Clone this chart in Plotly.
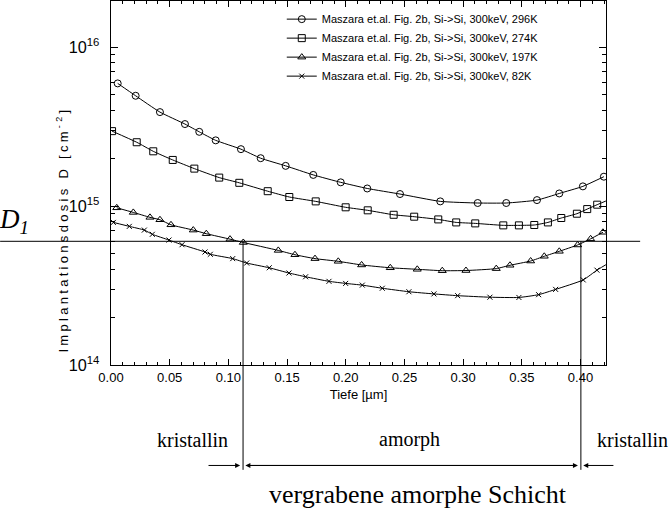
import math
import plotly.graph_objects as go

# Maszara et al. Fig. 2b, Si->Si, 300keV -- Tiefe [um] vs Implantationsdosis [cm^-2]
x_296 = [0.0057, 0.0210, 0.0417, 0.0630, 0.0752, 0.0892, 0.1107, 0.1275, 0.1488, 0.1723,
         0.1957, 0.2183, 0.2462, 0.2805, 0.3124, 0.3367, 0.3629, 0.3819, 0.4020, 0.4199]
d_296 = [5.91e15, 4.94e15, 3.90e15, 3.28e15, 2.93e15, 2.59e15, 2.28e15, 2.00e15, 1.79e15, 1.57e15,
         1.41e15, 1.29e15, 1.19e15, 1.07e15, 1.045e15, 1.045e15, 1.09e15, 1.20e15, 1.33e15, 1.53e15]

x_274 = [0.0009, 0.0219, 0.0360, 0.0526, 0.0710, 0.0922, 0.1093, 0.1335, 0.1519, 0.1744,
         0.1999, 0.2187, 0.2408, 0.2583, 0.2788, 0.2941, 0.3103, 0.3342, 0.3475, 0.3606,
         0.3722, 0.3836, 0.3969, 0.4057, 0.4142, 0.4260]
d_274 = [2.96e15, 2.52e15, 2.21e15, 1.95e15, 1.72e15, 1.51e15, 1.40e15, 1.24e15, 1.14e15, 1.07e15,
         9.82e14, 9.40e14, 8.81e14, 8.57e14, 8.24e14, 7.89e14, 7.78e14, 7.56e14, 7.56e14, 7.60e14,
         7.89e14, 8.41e14, 8.95e14, 9.57e14, 1.02e15, 1.11e15]

x_197 = [0.0049, 0.0190, 0.0332, 0.0417, 0.0511, 0.0701, 0.0812, 0.1014, 0.1127, 0.1425,
         0.1567, 0.1738, 0.1936, 0.2135, 0.2379, 0.2609, 0.2822, 0.3024, 0.3282, 0.3399,
         0.3575, 0.3691, 0.3819, 0.3975, 0.4086, 0.4191]
d_197 = [9.75e14, 9.12e14, 8.49e14, 8.20e14, 7.62e14, 7.06e14, 6.70e14, 6.19e14, 5.90e14, 5.26e14,
         4.94e14, 4.67e14, 4.49e14, 4.26e14, 4.09e14, 4.00e14, 3.92e14, 3.93e14, 4.04e14, 4.24e14,
         4.51e14, 4.83e14, 5.19e14, 5.69e14, 6.22e14, 6.84e14]

x_82 = [0.0020, 0.0156, 0.0284, 0.0352, 0.0494, 0.0605, 0.0801, 0.0846, 0.1037, 0.1156,
        0.1348, 0.1516, 0.1658, 0.1857, 0.1999, 0.2141, 0.2311, 0.2538, 0.2751, 0.2953,
        0.3228, 0.3475, 0.3643, 0.3788, 0.4023, 0.4140, 0.4260]
d_82 = [7.89e14, 7.45e14, 7.06e14, 6.64e14, 6.11e14, 5.71e14, 5.14e14, 4.97e14, 4.67e14, 4.38e14,
        4.09e14, 3.79e14, 3.59e14, 3.36e14, 3.26e14, 3.18e14, 3.04e14, 2.89e14, 2.80e14, 2.73e14,
        2.67e14, 2.66e14, 2.77e14, 2.99e14, 3.43e14, 3.95e14, 4.47e14]

series = [
    ("Maszara et.al. Fig. 2b, Si->Si, 300keV, 296K", x_296, d_296, "circle-open", 7),
    ("Maszara et.al. Fig. 2b, Si->Si, 300keV, 274K", x_274, d_274, "square-open", 7),
    ("Maszara et.al. Fig. 2b, Si->Si, 300keV, 197K", x_197, d_197, "triangle-up-open", 7),
    ("Maszara et.al. Fig. 2b, Si->Si, 300keV, 82K", x_82, d_82, "x-thin-open", 5),
]

# threshold dose and boundaries of the buried amorphous layer
D1 = 6e14
x_a = 0.1125
x_b = 0.4003

x_range = [0, 0.4217]
y_range = [14, 16.29]

sans = "Liberation Sans"
serif = "Liberation Serif"

fig = go.Figure()
for name, xs, ds, sym, sz in series:
    fig.add_trace(go.Scatter(
        x=xs, y=ds, name=name, mode="lines+markers",
        line=dict(color="black", width=1, shape="spline", smoothing=0.5),
        marker=dict(symbol=sym, size=sz, color="black", line=dict(width=1, color="black")),
    ))

# paper height of D1 on the log axis
y_d1 = (math.log10(D1) - y_range[0]) / (y_range[1] - y_range[0])
y_low = -0.288
y_arrow = -0.276
y_word = -0.206

fig.add_shape(type="line", xref="paper", yref="paper", x0=-0.224, x1=1.069, y0=y_d1, y1=y_d1,
              line=dict(color="black", width=1))
for xv in [x_a, x_b]:
    fig.add_shape(type="line", xref="x", yref="paper", x0=xv, x1=xv, y0=y_d1, y1=y_low,
                  line=dict(color="black", width=1))

arrows = [
    (x_a - 0.0025, 0.0818),
    (x_a + 0.0020, x_b - 0.0025),
    (x_b - 0.0025, x_a + 0.0020),
    (x_b + 0.0020, 0.4293),
]
for head, tail in arrows:
    fig.add_annotation(x=head, y=y_arrow, xref="x", yref="paper", ax=tail, ay=0,
                       axref="x", ayref="pixel", text="", showarrow=True,
                       arrowhead=2, arrowsize=1, arrowwidth=1, arrowcolor="black",
                       standoff=0, startstandoff=0)

words = [(0.164, "kristallin"), (0.603, "amorph"), (1.053, "kristallin")]
for xp, w in words:
    fig.add_annotation(x=xp, y=y_word, xref="paper", yref="paper", text=w,
                       xanchor="center", yanchor="middle", showarrow=False,
                       font=dict(family=serif, size=20, color="black"))
fig.add_annotation(x=0.620, y=-0.357, xref="paper", yref="paper", text="vergrabene amorphe Schicht",
                   xanchor="center", yanchor="middle", showarrow=False,
                   font=dict(family=serif, size=26, color="black"))
fig.add_annotation(x=-0.196, y=y_d1 + 0.055, xref="paper", yref="paper",
                   text="<i>D</i><sub><i>1</i></sub>", xanchor="center", yanchor="middle",
                   showarrow=False, font=dict(family=serif, size=27, color="black"))
fig.add_annotation(x=-0.099, y=0.372, xref="paper", yref="paper",
                   text='<span style="letter-spacing:3.3px">Implantationsdosis D [cm<sup>-2</sup>]</span>',
                   textangle=-90, xanchor="center", yanchor="middle",
                   showarrow=False, font=dict(family=sans, size=13, color="black"))

fig.update_xaxes(
    range=x_range, dtick=0.05, tick0=0, tickformat=".2f",
    ticks="inside", ticklen=6, tickcolor="black",
    minor=dict(ticks="inside", ticklen=3, dtick=0.01, tickcolor="black"),
    showline=True, linecolor="black", linewidth=1, mirror="ticks",
    showgrid=False, zeroline=False,
    tickfont=dict(family=sans, size=13, color="black"),
    title=dict(text="Tiefe [µm]", font=dict(family=sans, size=13, color="black"), standoff=6),
)
fig.update_yaxes(
    type="log", range=y_range, dtick=1, exponentformat="power",
    ticks="inside", ticklen=7, tickcolor="black", ticklabelstandoff=8,
    minor=dict(ticks="inside", ticklen=4, dtick="D1", tickcolor="black"),
    showline=True, linecolor="black", linewidth=1, mirror="ticks",
    showgrid=False, zeroline=False,
    tickfont=dict(family=sans, size=13, color="black"),
)

fig.update_layout(
    width=671, height=511,
    margin=dict(l=111, r=65, t=1, b=146),
    paper_bgcolor="white", plot_bgcolor="white",
    showlegend=True,
    legend=dict(x=0.345, y=0.99, xanchor="left", yanchor="top",
                bgcolor="rgba(0,0,0,0)", font=dict(family=sans, size=11, color="black"),
                itemwidth=30, tracegroupgap=0),
)

fig.write_html("out.html", config={"displayModeBar": False},
               post_script="document.body.style.margin='0px';")
